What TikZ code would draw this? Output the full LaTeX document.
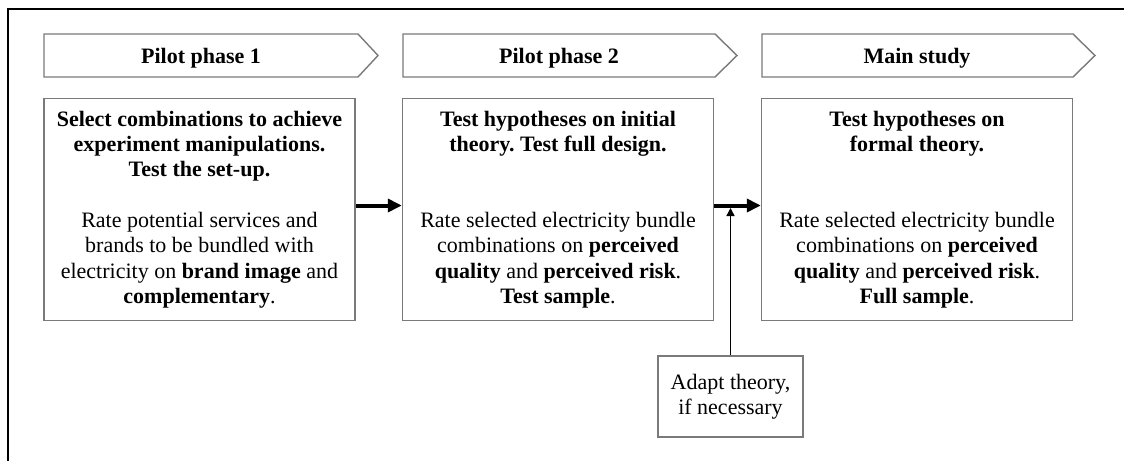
\documentclass[tikz,border=0pt]{standalone}
\usepackage{fontspec}
\setmainfont{Liberation Serif}
\usetikzlibrary{arrows.meta}
\frenchspacing
\definecolor{edgegray}{HTML}{7A7A7A}
\tikzset{
  every node/.style={font=\fontsize{22}{25.3}\selectfont, inner sep=0pt},
  stagebox/.style={draw=edgegray, line width=1.4pt, align=center,
    minimum width=311pt, minimum height=222pt},
  notebox/.style={draw=edgegray, line width=1.2pt, align=center,
    minimum width=145pt, minimum height=81pt},
  chevron/.style={draw=edgegray, line width=1.4pt, fill=white},
  flow/.style={line width=4pt, -{Triangle[length=14pt,width=13pt]}},
  feed/.style={line width=1.4pt, -{Triangle[length=8pt,width=8pt]}},
  title/.style={font=\fontsize{22}{25.3}\selectfont\bfseries, anchor=base}
}
\begin{document}
\begin{tikzpicture}[x=1pt,y=-1pt]
\useasboundingbox (0,0) rectangle (1124,461);
% frame
\draw[line width=2pt] (8,461) -- (8,9) -- (1124,9);

% phase banners
\draw[chevron] (44,34) -- (358,34) -- (378,55.5) -- (358,77) -- (44,77) -- cycle;
\draw[chevron] (403,34) -- (715,34) -- (737,55.5) -- (715,77) -- (403,77) -- cycle;
\draw[chevron] (762,34) -- (1073,34) -- (1095,55.5) -- (1073,77) -- (762,77) -- cycle;
\node[title] (t1) at (201,63) {Pilot phase 1};
\node[title] (t2) at (559,63) {Pilot phase 2};
\node[title] (t3) at (917,63) {Main study};

% stage boxes
\node[stagebox] (b1) at (199.5,209.5) {\textbf{Select combinations to achieve}\\
  \textbf{experiment manipulations.}\\
  \textbf{Test the set-up.}\\[25.3pt]
  Rate potential services and\\
  brands to be bundled with\\
  electricity on \textbf{brand image} and\\
  \textbf{complementary}.};
\node[stagebox] (b2) at (558,209.5) {\textbf{Test hypotheses on initial}\\
  \textbf{theory. Test full design.}\\[50.6pt]
  Rate selected electricity bundle\\
  combinations on \textbf{perceived}\\
  \textbf{quality} and \textbf{perceived risk}.\\
  \textbf{Test sample}.};
\node[stagebox] (b3) at (917,209.5) {\textbf{Test hypotheses on}\\
  \textbf{formal theory.}\\[50.6pt]
  Rate selected electricity bundle\\
  combinations on \textbf{perceived}\\
  \textbf{quality} and \textbf{perceived risk}.\\
  \textbf{Full sample}.};

% feedback box
\node[notebox] (ad) at (730.5,396.5) {Adapt theory,\\if necessary};
\coordinate (j) at (730.5,208);

% connectors
\draw[flow] ([yshift=4pt]b1.east) -- ([yshift=4pt]b2.west);
\draw[flow] ([yshift=4pt]b2.east) -- ([yshift=4pt]b3.west);
\draw[feed] (ad.north) -- (ad.north |- j);
\end{tikzpicture}
\end{document}
